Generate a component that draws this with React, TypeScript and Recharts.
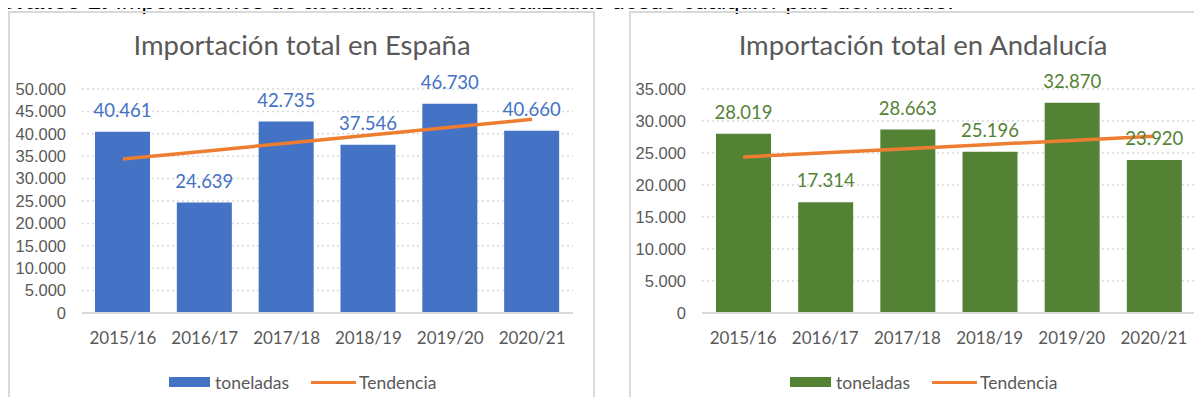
import React from 'react';
import { ComposedChart, Bar, Line, XAxis, YAxis, CartesianGrid, LabelList } from 'recharts';

const CAMPAIGNS = ['2015/16', '2016/17', '2017/18', '2018/19', '2019/20', '2020/21'];

const SPAIN_TONS = [40461, 24639, 42735, 37546, 46730, 40660];
const SPAIN_TREND = [34360, 36130, 37910, 39680, 41460, 43230];
const SPAIN_TICKS = [0, 5000, 10000, 15000, 20000, 25000, 30000, 35000, 40000, 45000, 50000];

const ANDALUCIA_TONS = [28019, 17314, 28663, 25196, 32870, 23920];
const ANDALUCIA_TREND = [24380, 25020, 25670, 26320, 26970, 27620];
const ANDALUCIA_TICKS = [0, 5000, 10000, 15000, 20000, 25000, 30000, 35000];

const BLUE = '#4472c4';
const GREEN = '#548235';
const ORANGE = '#ed7d31';
const GRID = '#d9d9d9';
const INK = '#595959';
const FONT = 'Lato, "Open Sans", sans-serif';
const NARROW = '"Liberation Sans Narrow", "Arial Narrow", "Liberation Sans", sans-serif';

// Spanish thousands separator, also on 4-digit numbers (5.000)
const fmt = (v: number | string) => String(v).replace(/\B(?=(\d{3})+(?!\d))/g, '.');

const build = (tons: number[], trend: number[]) =>
    CAMPAIGNS.map((c, i) => ({ campaign: c, toneladas: tons[i], tendencia: trend[i] }));

const Panel: React.FC<{
    left: number;
    data: { campaign: string; toneladas: number; tendencia: number }[];
    ticks: number[];
    color: string;
    rightMargin: number;
}> = ({ left, data, ticks, color, rightMargin }) => (
    <div style={{ position: 'absolute', left, top: 0 }}>
        <ComposedChart width={595} height={405} data={data}
            margin={{ top: 89, right: rightMargin, bottom: 62, left: 0 }}>
            <CartesianGrid stroke={GRID} strokeWidth={1.5} strokeDasharray="2 3" vertical={false} />
            <XAxis dataKey="campaign" height={30} tickLine={false} tickSize={0} tickMargin={19}
                axisLine={{ stroke: GRID, strokeWidth: 2 }}
                tick={{ fontSize: 17, fill: INK, fontFamily: FONT }} interval={0} />
            <YAxis width={82} domain={[0, ticks[ticks.length - 1]]} ticks={ticks} tickFormatter={fmt}
                interval={0} axisLine={false} tickLine={false} tickSize={0} tickMargin={16}
                tick={{ fontSize: 16.5, fill: INK, fontFamily: NARROW }} />
            <Bar dataKey="toneladas" fill={color} barSize={55} isAnimationActive={false}>
                <LabelList dataKey="toneladas" position="top" offset={15} formatter={fmt}
                    style={{ fontSize: 18.5, fill: color, fontFamily: FONT }} />
            </Bar>
            <Line dataKey="tendencia" type="linear" stroke={ORANGE} strokeWidth={3.5} dot={false}
                activeDot={false} isAnimationActive={false} />
        </ComposedChart>
    </div>
);

const LegendRow: React.FC<{ left: number; color: string }> = ({ left, color }) => (
    <div style={{ position: 'absolute', left, top: 371, height: 22, display: 'flex', alignItems: 'center',
        fontFamily: FONT, fontSize: 17.5, color: INK }}>
        <span style={{ width: 41, height: 10, background: color, marginRight: 5 }} />
        <span>toneladas</span>
        <span style={{ width: 45, height: 3, background: ORANGE, marginLeft: 22, marginRight: 3 }} />
        <span>Tendencia</span>
    </div>
);

const Title: React.FC<{ center: number; text: string }> = ({ center, text }) => (
    <div style={{ position: 'absolute', left: center - 250, width: 500, top: 29, lineHeight: '32px',
        textAlign: 'center', fontFamily: FONT, fontSize: 27.5, color: INK }}>{text}</div>
);

export default function App() {
    return (
        <div style={{ position: 'relative', width: 1202, height: 405, margin: -8, overflow: 'hidden', background: '#fff' }}>
            <div style={{ position: 'absolute', left: -2, top: -10, whiteSpace: 'nowrap', lineHeight: '22px',
                fontFamily: '"Liberation Sans", Arial, sans-serif', fontSize: 23.7, color: '#000' }}>
                <b>Gráfico 1:</b> Importaciones de aceituna de mesa realizadas desde cualquier país del mundo.
            </div>
            <div style={{ position: 'absolute', left: 8, top: 11, width: 587, height: 420, boxSizing: 'border-box',
                border: `2px solid ${GRID}` }} />
            <div style={{ position: 'absolute', left: 629, top: 11, width: 620, height: 420, boxSizing: 'border-box',
                border: `2px solid ${GRID}` }} />
            <Title center={302} text="Importación total en España" />
            <Title center={923} text="Importación total en Andalucía" />
            <Panel left={0} data={build(SPAIN_TONS, SPAIN_TREND)} ticks={SPAIN_TICKS} color={BLUE} rightMargin={22} />
            <Panel left={620} data={build(ANDALUCIA_TONS, ANDALUCIA_TREND)} ticks={ANDALUCIA_TICKS} color={GREEN} rightMargin={20} />
            <LegendRow left={169} color={BLUE} />
            <LegendRow left={790} color={GREEN} />
        </div>
    );
}
